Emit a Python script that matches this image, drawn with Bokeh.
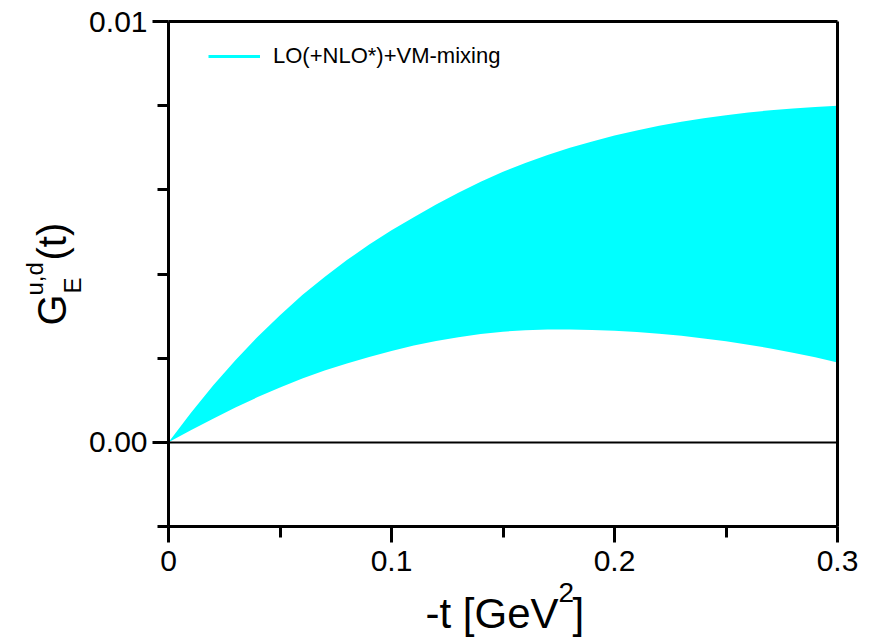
import math
from bokeh.plotting import figure
from bokeh.models import (Range1d, FixedTicker, Label, Legend, LegendItem,
                          ColumnDataSource, LinearAxis)
from bokeh.embed import file_html
from bokeh.resources import INLINE

# -t [GeV^2]
t_vals = [0.00, 0.01, 0.02, 0.03, 0.04, 0.05, 0.06, 0.07, 0.08, 0.09, 0.10,
          0.11, 0.12, 0.13, 0.14, 0.15, 0.16, 0.17, 0.18, 0.19, 0.20,
          0.21, 0.22, 0.23, 0.24, 0.25, 0.26, 0.27, 0.28, 0.29, 0.30]
band_upper = [0.0, 0.00070, 0.00135, 0.00195, 0.00251, 0.00302, 0.00350, 0.00393,
              0.00433, 0.00470, 0.00504, 0.00535, 0.00565, 0.00593, 0.00619,
              0.00643, 0.00664, 0.00683, 0.00700, 0.00715, 0.00729,
              0.00741, 0.00752, 0.00762, 0.00770, 0.00777, 0.00784, 0.00789,
              0.00793, 0.00797, 0.00800]
band_lower = [0.0, 0.000285, 0.00056, 0.000825, 0.001075, 0.001305, 0.001515,
              0.001705, 0.001875, 0.00203, 0.00217, 0.00230, 0.00241, 0.00250,
              0.002575, 0.00263, 0.002665, 0.00268, 0.00268, 0.00267, 0.00265,
              0.00262, 0.00258, 0.00253, 0.00247, 0.00240, 0.00232, 0.00223,
              0.00213, 0.00202, 0.00190]

x_min, x_max = 0.0, 0.3
y_min, y_max = -0.002, 0.01
x_major = [0.0, 0.1, 0.2, 0.3]
x_minor = [0.05, 0.15, 0.25]
x_labels = ["0", "0.1", "0.2", "0.3"]
y_major = [0.0, 0.01]
y_minor = [-0.002, 0.002, 0.004, 0.006, 0.008]
y_labels = ["0.00", "0.01"]
legend_label = "LO(+NLO*)+VM-mixing"

FONT = "Liberation Sans"
CYAN = "#00FFFF"

# the frame fills the whole canvas; the box is drawn with fixed-location axes
W, H = 865, 637
BOX_L, BOX_R, BOX_T, BOX_B = 168, 837, 21, 526
sx = (x_max - x_min) / (BOX_R - BOX_L)
sy = (y_max - y_min) / (BOX_B - BOX_T)
xr = Range1d(x_min - BOX_L * sx, x_max + (W - BOX_R) * sx)
yr = Range1d(y_min - (H - BOX_B) * sy, y_max + BOX_T * sy)

p = figure(width=W, height=H, output_backend="svg", toolbar_location=None,
           x_range=xr, y_range=yr, min_border=0,
           min_border_left=0, min_border_right=0, min_border_top=0,
           min_border_bottom=0)
p.grid.visible = False
p.background_fill_color = "white"
p.border_fill_color = "white"
p.outline_line_color = None

src = ColumnDataSource(dict(t=t_vals, lo=band_lower, hi=band_upper))
p.varea(x="t", y1="lo", y2="hi", source=src, fill_color=CYAN, fill_alpha=1.0)

leg_line = p.line(x=[float("nan")], y=[float("nan")], line_color=CYAN, line_width=3)
legend = Legend(items=[LegendItem(label=legend_label, renderers=[leg_line])],
                location=(208, H - 69), padding=0, margin=0, spacing=0,
                border_line_color=None, background_fill_alpha=0,
                glyph_width=52, glyph_height=22, label_height=22,
                label_standoff=13, label_text_font=FONT,
                label_text_font_size="22px", label_text_color="black")
p.add_layout(legend)


def style(ax, major, minor, labels, loc, bounds, width=3):
    ax.fixed_location = loc
    ax.bounds = bounds
    ax.ticker = FixedTicker(ticks=major, minor_ticks=minor)
    if labels:
        ax.major_label_overrides = {v: s for v, s in zip(major, labels)}
    else:
        ax.major_label_text_font_size = "0px"
    ax.axis_line_width = width
    ax.axis_line_color = "black"
    ax.major_tick_line_width = 3
    ax.minor_tick_line_width = 3
    ax.major_tick_in = 0
    ax.minor_tick_in = 0
    ax.major_tick_out = 16
    ax.minor_tick_out = 11
    ax.major_label_text_font = FONT
    if labels:
        ax.major_label_text_font_size = "30px"
    ax.major_label_text_color = "black"


style(p.xaxis[0], x_major, x_minor, x_labels, y_min, (x_min, x_max))
style(p.yaxis[0], y_major, y_minor, y_labels, x_min, (y_min, y_max))
p.xaxis[0].major_label_standoff = 8
p.yaxis[0].major_label_standoff = 5

top_ax = LinearAxis()
style(top_ax, [], [], None, y_max, (x_min, x_max))
p.add_layout(top_ax, "above")
right_ax = LinearAxis()
style(right_ax, [], [], None, x_max, (y_min, y_max))
p.add_layout(right_ax, "right")
zero_ax = LinearAxis()
style(zero_ax, [], [], None, 0.0, (x_min, x_max), width=2)
p.add_layout(zero_ax, "below")


def lab(text, px, py, size, angle=0.0):
    p.add_layout(Label(x=x_min + (px - BOX_L) * sx, y=y_min + (BOX_B - py) * sy,
                       text=text, text_font=FONT, text_font_size=size,
                       text_color="black", text_align="left",
                       text_baseline="alphabetic", angle=angle))


# x-axis title: -t [GeV^2]
lab("-t [GeV", 425, 613, "42px")
lab("2", 558, 592, "28px")
lab("]", 572, 613, "42px")

# y-axis title: G_E^{u,d}(t)
A = math.pi / 2
lab("G", 51, 325, "40px", A)
lab("E", 72, 293, "24px", A)
lab("u,d", 34, 295, "24px", A)
lab("(t)", 51, 260, "40px", A)

open("out.html", "w").write(file_html(p, INLINE))
